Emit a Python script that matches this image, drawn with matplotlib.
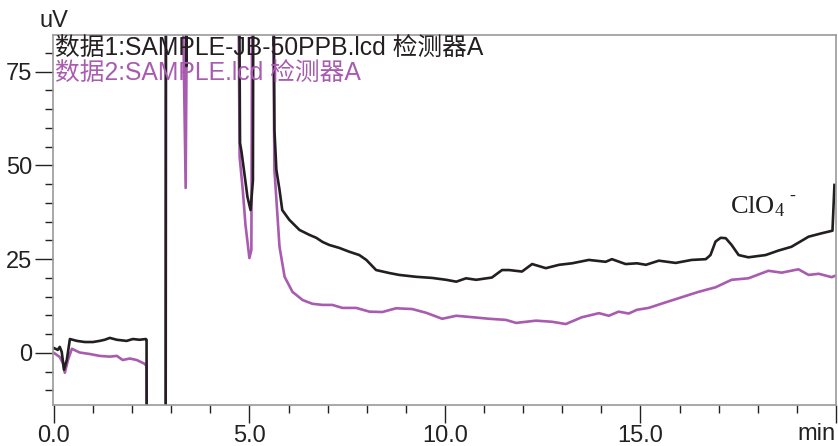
import numpy as np
import matplotlib.pyplot as plt

plt.rcParams['font.family'] = ['Liberation Sans', 'Noto Sans CJK SC', 'DejaVu Sans']
plt.rcParams['mathtext.fontset'] = 'custom'
plt.rcParams['mathtext.rm'] = 'Liberation Serif'

# trace 1 (SAMPLE-JB-50PPB), time in min, signal in uV; +/-200 means off scale
t1 = [0.0, 0.10, 0.15, 0.20, 0.26, 0.33, 0.41, 0.59, 0.79, 1.00, 1.17, 1.30, 1.43, 1.61,
      1.86, 2.02, 2.19, 2.35, 2.37, 2.40, 2.85, 2.87, 3.34, 3.39, 3.44, 4.69, 4.76,
      4.80, 4.87, 4.95, 5.03, 5.09, 5.12, 5.57, 5.64, 5.69, 5.77, 5.84, 6.02, 6.28,
      6.53, 6.71, 6.87, 7.04, 7.30, 7.55, 7.81, 7.99, 8.24, 8.58, 8.83, 9.26, 9.67,
      10.03, 10.29, 10.54, 10.80, 11.20, 11.46, 11.64, 11.97, 12.23, 12.58, 12.92,
      13.25, 13.68, 14.11, 14.27, 14.62, 14.91, 15.14, 15.47, 15.90, 16.31, 16.67,
      16.79, 16.92, 17.05, 17.18, 17.33, 17.51, 17.76, 18.20, 18.53, 18.86, 19.30,
      19.63, 19.91, 19.96]
v1 = [1.3, 0.8, 1.6, 0.3, -4.5, -1.9, 3.7, 3.2, 2.9, 2.9, 3.2, 3.5, 4.0, 3.5,
      3.2, 3.7, 3.5, 3.7, 3.5, -200, -200, 200, 200, 76.5, 200, 200, 56,
      53.5, 48, 41.6, 38.1, 46, 200, 200, 59.5, 48.8, 43.5, 38.1, 35.5, 32.8,
      31.5, 30.7, 29.6, 28.8, 28.0, 27.0, 26.1, 24.8, 22.1, 21.3, 20.8, 20.3, 20.0,
      19.5, 19.0, 19.9, 19.5, 20.1, 22.1, 22.1, 21.7, 23.7, 22.6, 23.5,
      23.9, 24.8, 24.3, 25.0, 23.7, 23.9, 23.5, 24.6, 24.0, 24.8, 25.0,
      26.1, 29.7, 30.7, 30.6, 28.8, 26.1, 25.5, 26.1, 27.3, 28.3, 31.0,
      31.9, 32.6, 44.8]

# trace 2 (SAMPLE)
t2 = [0.0, 0.15, 0.23, 0.28, 0.36, 0.46, 0.66, 0.92, 1.17, 1.43, 1.61, 1.76, 1.94,
      2.12, 2.32, 2.37, 2.40, 2.85, 2.87, 3.15, 3.37, 3.47, 4.65, 4.75, 4.83, 4.90,
      5.00, 5.05, 5.10, 5.52, 5.64, 5.77, 5.90, 6.10, 6.36, 6.61, 6.87, 7.12, 7.38,
      7.73, 8.07, 8.40, 8.75, 9.16, 9.52, 9.93, 10.29, 10.62, 11.13, 11.56, 11.82,
      12.33, 12.74, 13.09, 13.50, 13.94, 14.19, 14.44, 14.70, 14.91, 15.21, 15.59,
      15.98, 16.49, 16.92, 17.33, 17.76, 18.27, 18.61, 19.04, 19.30, 19.56, 19.89,
      19.96]
v2 = [0.0, -1.1, -2.7, -5.3, -1.9, 1.1, 0.1, -0.3, -0.8, -1.0, -0.8, -1.9, -1.5,
      -1.9, -2.9, -3.5, -200, -200, 200, 200, 44, 200, 200, 52.3, 43.5, 34.1,
      25.3, 27.5, 200, 200, 48.8, 28.3, 20.3, 16.3, 14.1, 13.1, 12.8, 12.8, 12.0,
      12.0, 11.0, 10.9, 11.9, 11.7, 10.7, 9.1, 9.9, 9.6, 9.1, 8.8, 8.0,
      8.6, 8.3, 7.7, 9.5, 10.6, 9.9, 11.0, 10.5, 11.5, 12.0, 13.3,
      14.6, 16.3, 17.5, 19.5, 19.9, 21.9, 21.4, 22.3, 20.8, 21.1, 20.2,
      20.5]

x_ticks = [0, 5, 10, 15]
x_labels = ['0.0', '5.0', '10.0', '15.0']
y_ticks = [0, 25, 50, 75]

fig = plt.figure(figsize=(8.38, 4.46), dpi=100)
ax = fig.add_axes([52.7 / 838, 1 - 405 / 446, (836 - 52.7) / 838, (405 - 35) / 446])

ax.plot(t2, v2, color='#a95bb0', lw=1.9)
ax.plot(t1, v1, color='#231f20', lw=1.9)

ax.set_xlim(-0.03, 20.0)
ax.set_ylim(-13.9, 84.8)

ax.set_xticks(x_ticks + [20])
ax.set_xticklabels(x_labels + [''])
ax.set_xticks(np.arange(0, 21, 1), minor=True)
ax.set_yticks(y_ticks)
ax.set_yticks(np.arange(-10, 85, 5), minor=True)

ax.tick_params(axis='both', which='major', length=13, width=1, labelsize=17, colors='#222222')
ax.tick_params(axis='both', which='minor', length=6, width=1, colors='#222222')
ax.tick_params(axis='y', pad=2)
ax.tick_params(axis='x', pad=1.5)
for s in ax.spines.values():
    s.set_color('#9a9a9a')
    s.set_linewidth(1.2)

ax.text(0.003, 0.997, '数据1:SAMPLE-JB-50PPB.lcd 检测器A', transform=ax.transAxes,
        ha='left', va='top', fontsize=17.8, color='#231f20')
ax.text(0.003, 0.93, '数据2:SAMPLE.lcd 检测器A', transform=ax.transAxes,
        ha='left', va='top', fontsize=17.8, color='#a95bb0')

# peak label: ClO4 with a short superscript dash
ax.text(17.3, 37.2, r'$\mathrm{ClO_4}$', fontsize=19, color='#231f20')
ax.text(18.82, 40.6, '-', fontsize=13, color='#231f20', family='Liberation Serif')

fig.text(39 / 838, 1 - 10 / 446, 'uV', ha='left', va='top', fontsize=17, color='#222222')
fig.text(836 / 838, 1 - 440 / 446, 'min', ha='right', va='baseline', fontsize=17, color='#222222')

fig.savefig('out.png', dpi=100)
